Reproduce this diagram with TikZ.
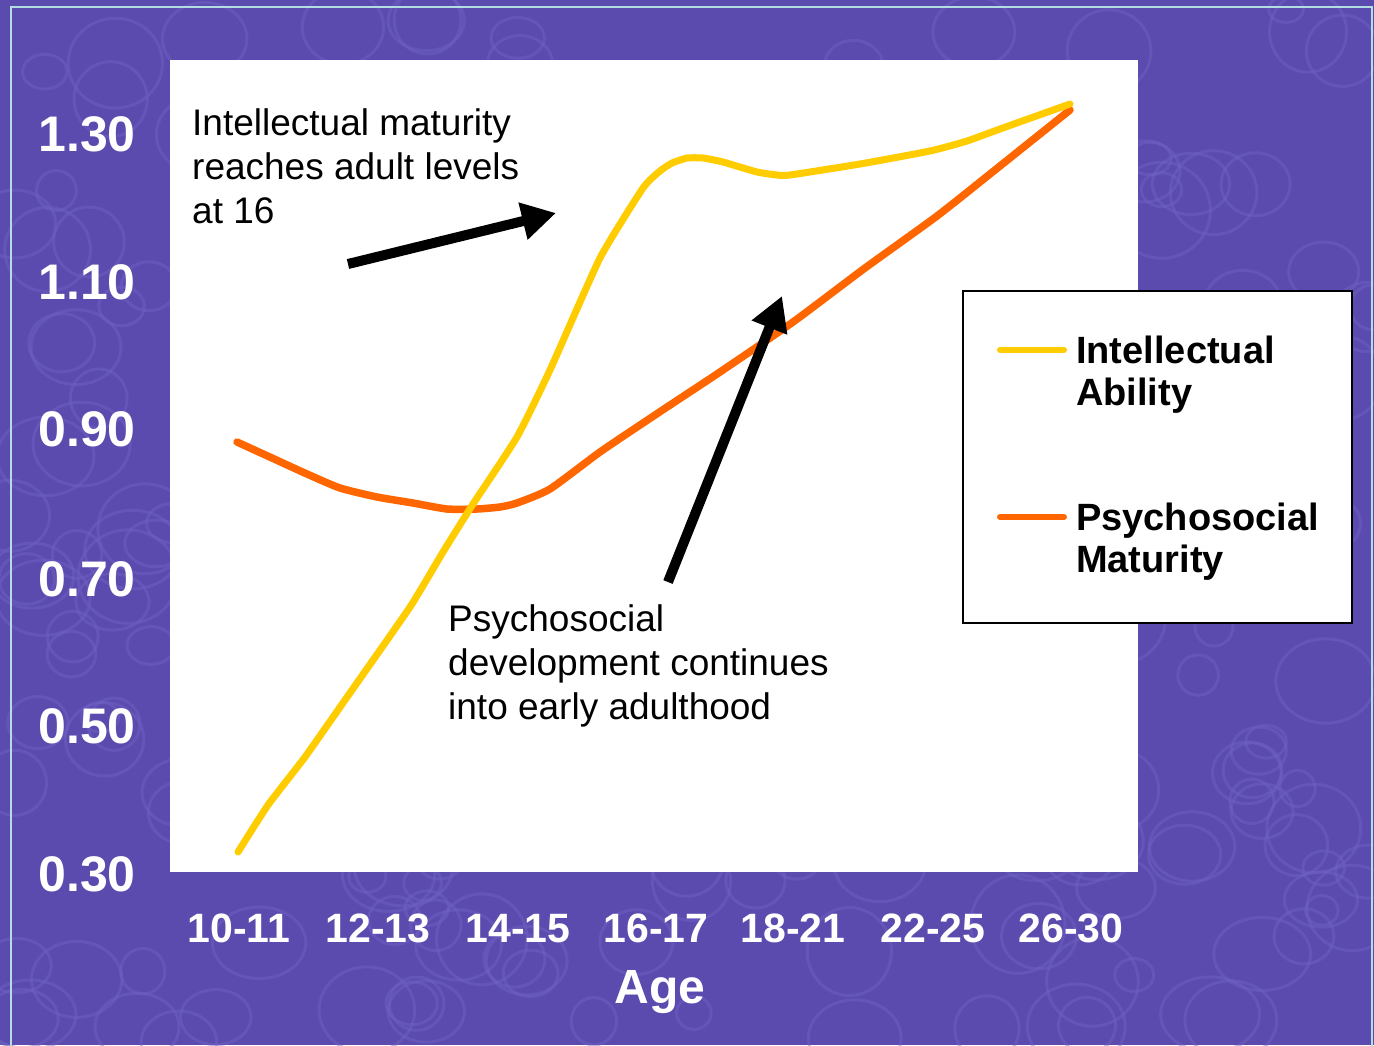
\documentclass[tikz,border=0pt]{standalone}
\usepackage{fontspec}
\setmainfont{Liberation Sans}
\usetikzlibrary{arrows.meta}
\definecolor{bgpurple}{RGB}{91,75,174}
\definecolor{ringcol}{RGB}{112,98,198}
\definecolor{bordercyan}{RGB}{178,222,226}
\definecolor{ylw}{RGB}{255,204,0}
\definecolor{org}{RGB}{255,102,0}
\tikzset{
  ylabel/.style={anchor=base east, text=white, font=\fontsize{50}{56}\selectfont\bfseries, inner sep=0},
  xlabel/.style={anchor=base, text=white, font=\fontsize{41}{48}\selectfont\bfseries, inner sep=0},
  annot/.style={anchor=north west, align=left, font=\fontsize{37}{44}\selectfont, inner sep=0},
  legtext/.style={anchor=north west, align=left, font=\fontsize{38}{42}\selectfont\bfseries, inner sep=0},
  yline/.style={draw=ylw, line width=7pt, line cap=round, line join=round},
  oline/.style={draw=org, line width=7.5pt, line cap=round, line join=round},
  bigarrow/.style={draw=black, line width=10pt, -{Triangle[length=34pt,width=36pt]}},
}
\begin{document}
\begin{tikzpicture}[x=1pt,y=-1pt]
\useasboundingbox (0,0) rectangle (1374,1045);
\fill[bgpurple] (0,0) rectangle (1374,1045);
% background rings
\begin{scope}
\clip (0,0) rectangle (1374,1045);
\pgfmathsetseed{12}
\foreach \i in {1,...,260}{
  \pgfmathsetmacro{\rx}{rnd*1374}
  \pgfmathsetmacro{\ry}{rnd*1045}
  \pgfmathsetmacro{\rr}{16+rnd*34}
  \pgfmathsetmacro{\rs}{0.75+rnd*0.3}
  \draw[ringcol, line width=3pt, opacity=0.45] (\rx,\ry) ellipse [x radius=\rr, y radius=\rr*\rs];
}
\end{scope}
\draw[bordercyan, line width=2pt] (11,1046) -- (11,7) -- (1372,7) -- (1372,1046);
% plot area
\node (plotarea) [fill=white, inner sep=0, minimum width=968pt, minimum height=812pt, anchor=north west] at (170,60) {};
% y labels
\node[ylabel] (y130) at (136,151) {1.30};
\node[ylabel] (y110) at (136,299) {1.10};
\node[ylabel] (y090) at (136,446) {0.90};
\node[ylabel] (y070) at (136,596) {0.70};
\node[ylabel] (y050) at (136,743) {0.50};
\node[ylabel] (y030) at (136,891) {0.30};
% x labels
\node[xlabel] (x1) at (239,942) {10-11};
\node[xlabel] (x2) at (378,942) {12-13};
\node[xlabel] (x3) at (518,942) {14-15};
\node[xlabel] (x4) at (656,942) {16-17};
\node[xlabel] (x5) at (793,942) {18-21};
\node[xlabel] (x6) at (933,942) {22-25};
\node[xlabel] (x7) at (1071,942) {26-30};
\node[anchor=base, text=white, font=\fontsize{48}{54}\selectfont\bfseries, inner sep=0] (agelabel) at (660,1003) {Age};
% curves
\draw[oline] plot[smooth, tension=0.35] coordinates {(237,442) (272,458) (307,474) (340,488) (377,497) (413,503) (447,509) (477,509) (500,507) (517,503) (550,489) (600,452) (655,415) (720,372) (793,322) (865,268) (937,216) (1000,166) (1070,110)};
\draw[yline] plot[smooth, tension=0.3] coordinates {(238,852) (268,805) (305,757) (345,700) (410,607) (443,552) (473,504) (517,437) (550,370) (600,258) (643,188) (660,171) (672,163) (687,158) (703,158) (723,162) (757,172) (777,175) (790,175) (860,164) (930,151) (967,141) (1000,129) (1070,104)};
% annotations
\node[annot] (note1) at (192,108) {Intellectual maturity\\reaches adult levels\\at 16};
\node[annot] (note2) at (448,604) {Psychosocial\\development continues\\into early adulthood};
\coordinate (a1s) at (348,264);
\coordinate (a1e) at (556,213);
\draw[bigarrow] (a1s) -- (a1e);
\coordinate (a2s) at (668,582);
\coordinate (a2e) at (782,296);
\draw[bigarrow] (a2s) -- (a2e);
% legend
\node (legend) [draw=black, line width=2pt, fill=white, inner sep=0, minimum width=389pt, minimum height=332pt, anchor=north west] at (962,290) {};
\coordinate (ly1) at (1000,350);
\coordinate (ly2) at (1064,350);
\draw[draw=ylw, line width=6pt, line cap=round] (ly1) -- (ly2);
\coordinate (lo1) at (1000,517);
\coordinate (lo2) at (1064,517);
\draw[draw=org, line width=6pt, line cap=round] (lo1) -- (lo2);
\node[legtext] (leg1) at (1076,336) {Intellectual\\Ability};
\node[legtext] (leg2) at (1076,503) {Psychosocial\\Maturity};
\end{tikzpicture}
\end{document}
